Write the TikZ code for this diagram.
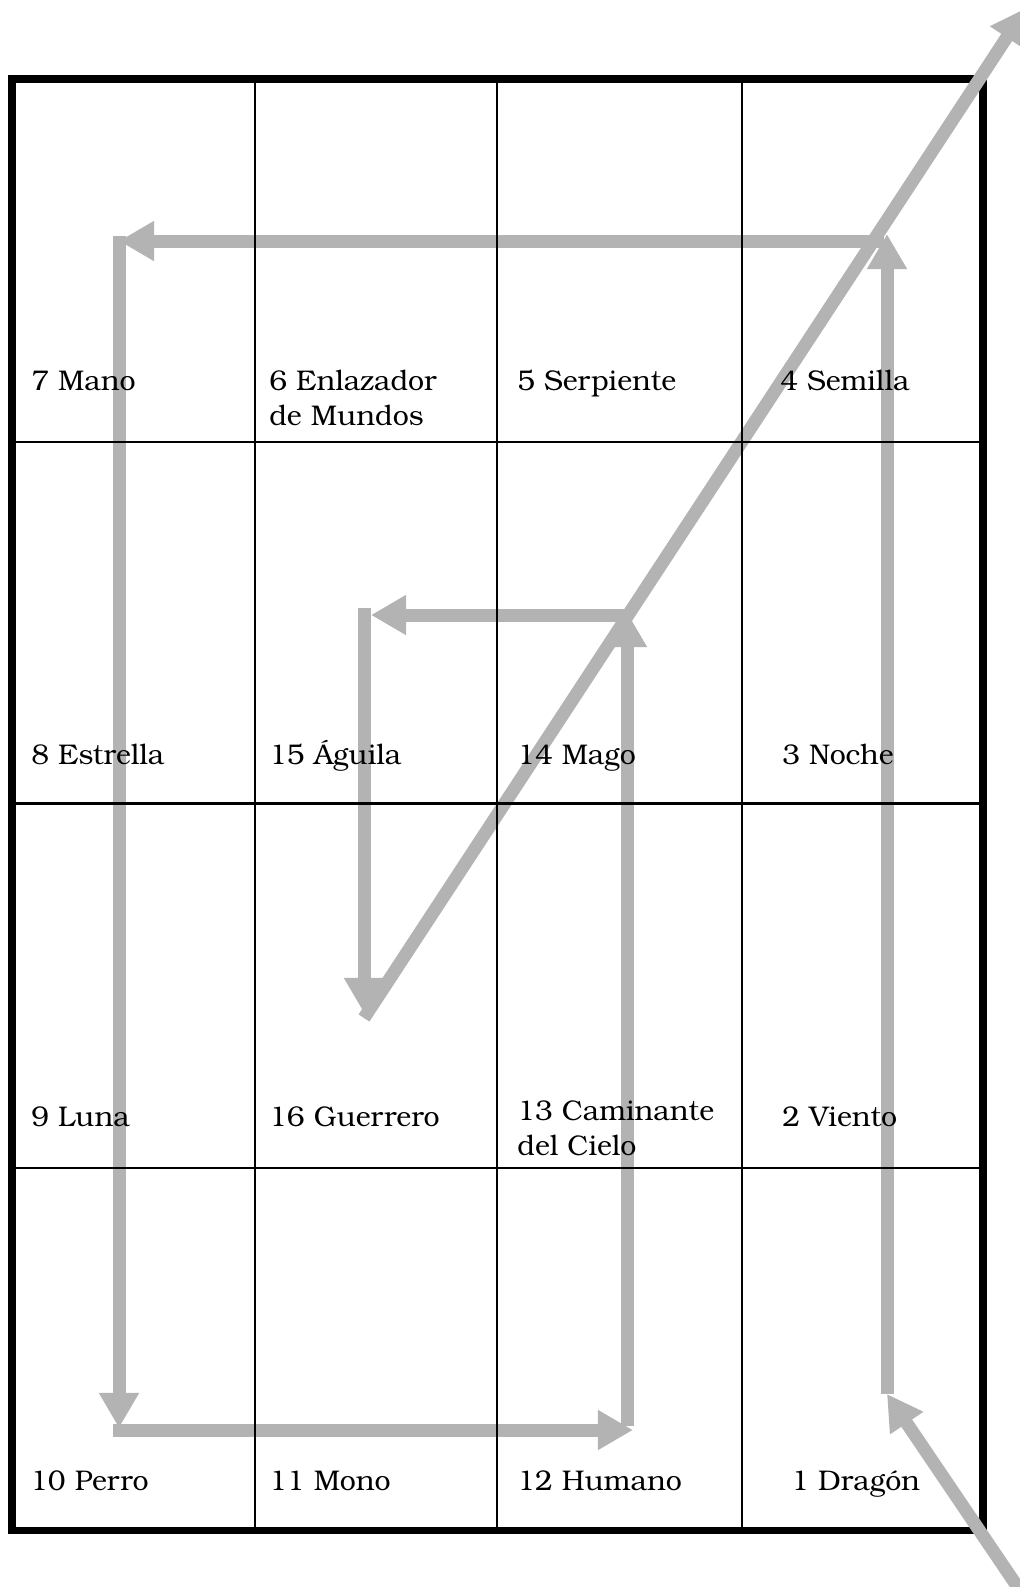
\documentclass[tikz,border=0pt]{standalone}
\usepackage{fontspec}
\setmainfont{TeX Gyre Bonum}
\usetikzlibrary{arrows.meta}
\definecolor{cPath}{RGB}{179, 179, 179}
\definecolor{tDark}{RGB}{0, 0, 0}

\begin{document}
\begin{tikzpicture}[
    x=0.02cm, y=-0.02cm,
    font=\fontsize{16.2}{19.5}\selectfont,
    sign/.style={
        anchor=base west,
        inner sep=0pt,
        align=left,
        text=tDark
    },
    frame/.style={draw=tDark, line width=4pt},
    rule/.style={draw=tDark, line width=1.6pt},
    arrow/.style={-{Triangle[length=20pt, width=21.5pt]}, line width=7.4pt, color=cPath}
]
\useasboundingbox (0,0) rectangle (1020,1587);

% Outer frame of the board
\draw[frame] (12,79) rectangle (983,1530);

% Path corners
\coordinate (entry) at (1040,1620);
\coordinate (r1) at (887,1394);
\coordinate (r2) at (887,234);
\coordinate (t1) at (884,241);
\coordinate (t2) at (119,241);
\coordinate (l1) at (119,236);
\coordinate (l2) at (119,1428);
\coordinate (b1) at (113,1430);
\coordinate (b2) at (633,1430);
\coordinate (m1) at (627,1426);
\coordinate (m2) at (627,612);
\coordinate (h1) at (627,615);
\coordinate (h2) at (371,615);
\coordinate (i1) at (364,608);
\coordinate (i2) at (364,1013);
\coordinate (d1) at (364,1018);
\coordinate (exit) at (1026,8);

% Spiral path
\draw[arrow] (entry) -- (r1);
\draw[arrow] (r1) -- (r2);
\draw[arrow] (t1) -- (t2);
\draw[arrow] (l1) -- (l2);
\draw[arrow] (b1) -- (b2);
\draw[arrow] (m1) -- (m2);
\draw[arrow] (h1) -- (h2);
\draw[arrow] (i1) -- (i2);
\draw[arrow] (d1) -- (exit);

% Inner cell borders
\draw[rule] (255,79) -- (255,1530);
\draw[rule] (497,79) -- (497,1530);
\draw[rule] (742,79) -- (742,1530);
\draw[rule] (12,442) -- (983,442);
\draw[rule] (12,803.5) -- (983,803.5);
\draw[rule] (12,1168) -- (983,1168);

% Row 1
\node[sign] (mano) at (31,390) {7 Mano};
\node[sign] (enlazador) at (269,425) {6 Enlazador\\de Mundos};
\node[sign] (serpiente) at (517,390) {5 Serpiente};
\node[sign] (semilla) at (780,390) {4 Semilla};

% Row 2
\node[sign] (estrella) at (31,764) {8 Estrella};
\node[sign] (aguila) at (269,764) {15 Águila};
\node[sign] (mago) at (517,764) {14 Mago};
\node[sign] (noche) at (782,764) {3 Noche};

% Row 3
\node[sign] (luna) at (31,1126) {9 Luna};
\node[sign] (guerrero) at (269,1126) {16 Guerrero};
\node[sign] (caminante) at (517,1155) {13 Caminante\\del Cielo};
\node[sign] (viento) at (782,1126) {2 Viento};

% Row 4
\node[sign] (perro) at (30,1490) {10 Perro};
\node[sign] (mono) at (269,1490) {11 Mono};
\node[sign] (humano) at (517,1490) {12 Humano};
\node[sign] (dragon) at (791,1490) {1 Dragón};

\end{tikzpicture}
\end{document}
